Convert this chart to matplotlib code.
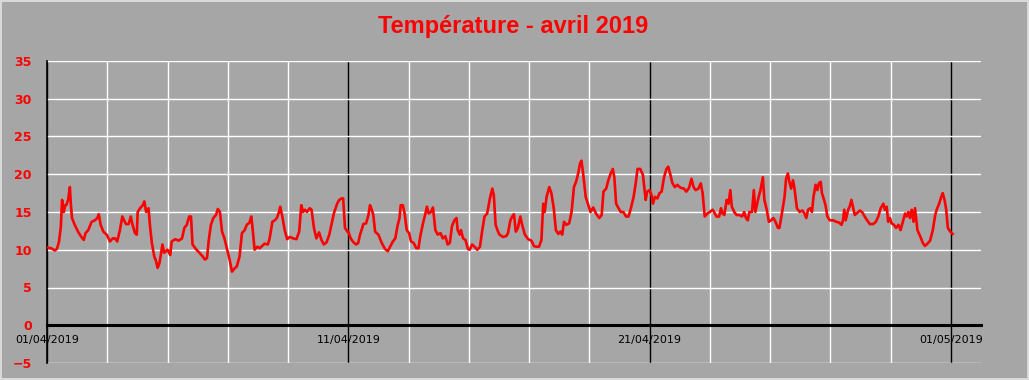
import matplotlib
matplotlib.use("Agg")
import matplotlib.pyplot as plt
from matplotlib.ticker import MultipleLocator, FixedLocator

# --- data: days elapsed since 01/04/2019 00:00, temperature (°C) ---
days = [
    0.00, 0.14, 0.26, 0.33, 0.40, 0.46, 0.50, 0.56, 0.60, 0.64, 0.70, 0.76, 0.79, 0.83, 0.92,
    1.03, 1.14, 1.22, 1.28, 1.37, 1.48, 1.59, 1.67, 1.72, 1.78, 1.87, 1.98,
    2.09, 2.18, 2.26, 2.33, 2.42, 2.50, 2.56, 2.62, 2.71, 2.78, 2.84, 2.92, 2.98,
    3.01, 3.09, 3.18, 3.23, 3.29, 3.37, 3.42, 3.48, 3.56, 3.62, 3.67, 3.73, 3.79, 3.83, 3.89, 3.94,
    4.00, 4.09, 4.14, 4.26, 4.37, 4.48, 4.56, 4.64, 4.72, 4.78, 4.83, 4.94,
    5.06, 5.17, 5.24, 5.31, 5.37, 5.44, 5.52, 5.61, 5.67, 5.74, 5.81, 5.89, 5.97,
    6.06, 6.14, 6.22, 6.30, 6.39, 6.47, 6.56, 6.63, 6.72, 6.78, 6.83, 6.89, 6.98,
    7.06, 7.14, 7.22, 7.33, 7.39, 7.48, 7.56, 7.63, 7.70, 7.74, 7.81, 7.89, 7.97,
    8.06, 8.17, 8.28, 8.37, 8.44, 8.50, 8.56, 8.63, 8.72, 8.78, 8.86, 8.94,
    9.03, 9.11, 9.19, 9.28, 9.37, 9.44, 9.52, 9.58, 9.63, 9.70, 9.78, 9.83, 9.89, 9.97,
    10.00, 10.08, 10.17, 10.26, 10.33, 10.39, 10.44, 10.50, 10.59, 10.67, 10.72, 10.78, 10.83, 10.89,
    11.00, 11.11, 11.22, 11.31, 11.39, 11.48, 11.56, 11.63, 11.70, 11.74, 11.81, 11.87, 11.94,
    12.02, 12.08, 12.17, 12.26, 12.33, 12.39, 12.48, 12.56, 12.61, 12.67, 12.74, 12.81, 12.89, 12.97,
    13.06, 13.14, 13.22, 13.30, 13.37, 13.44, 13.52, 13.59, 13.63, 13.70, 13.74, 13.81, 13.89, 13.97,
    14.03, 14.11, 14.19, 14.28, 14.37, 14.44, 14.52, 14.61, 14.70, 14.78, 14.83, 14.89, 14.97,
    15.02, 15.13, 15.24, 15.30, 15.38, 15.44, 15.50, 15.56, 15.63, 15.71, 15.77, 15.86, 15.97,
    16.08, 16.16, 16.24, 16.33, 16.41, 16.47, 16.52, 16.58, 16.67, 16.74, 16.82, 16.89, 16.97,
    17.04, 17.10, 17.16, 17.24, 17.33, 17.41, 17.49, 17.56, 17.63, 17.69, 17.74, 17.80, 17.88, 17.97,
    18.04, 18.13, 18.22, 18.33, 18.41, 18.47, 18.56, 18.63, 18.71, 18.78, 18.83, 18.89, 18.97,
    19.04, 19.13, 19.22, 19.30, 19.38, 19.47, 19.54, 19.60, 19.69, 19.78, 19.87, 19.92,
    20.00, 20.07, 20.11, 20.18, 20.26, 20.33, 20.40, 20.48, 20.56, 20.62, 20.68, 20.76, 20.84, 20.92,
    21.03, 21.14, 21.22, 21.31, 21.39, 21.46, 21.53, 21.62, 21.70, 21.76, 21.83, 21.92,
    22.00, 22.09, 22.14, 22.22, 22.31, 22.37, 22.42, 22.48, 22.56, 22.62, 22.68, 22.73, 22.81, 22.89, 22.98,
    23.07, 23.14, 23.20, 23.26, 23.31, 23.40, 23.46, 23.51, 23.57, 23.62, 23.68, 23.76, 23.81, 23.89, 23.96,
    24.03, 24.11, 24.18, 24.26, 24.31, 24.40, 24.48, 24.53, 24.59, 24.64, 24.70, 24.76, 24.81, 24.89, 24.98,
    25.07, 25.14, 25.20, 25.26, 25.33, 25.39, 25.44, 25.51, 25.57, 25.62, 25.68, 25.72, 25.79, 25.84, 25.90, 25.98,
    26.09, 26.20, 26.29, 26.37, 26.42, 26.46, 26.51, 26.59, 26.64, 26.70, 26.76, 26.81, 26.87, 26.98,
    27.07, 27.14, 27.22, 27.31, 27.42, 27.51, 27.59, 27.67, 27.76, 27.81, 27.87, 27.92, 27.98,
    28.03, 28.11, 28.18, 28.26, 28.33, 28.42, 28.48, 28.53, 28.59, 28.64, 28.70, 28.76, 28.81, 28.89, 28.98,
    29.07, 29.14, 29.22, 29.31, 29.40, 29.48, 29.53, 29.61, 29.68, 29.73, 29.79, 29.84, 29.90, 29.98, 30.06,
]
temps = [
    10.3, 10.2, 9.9, 10.1, 11.1, 13.1, 16.6, 15.0, 15.9, 15.9, 16.6, 18.3, 16.1, 14.2, 13.3,
    12.4, 11.7, 11.3, 12.2, 12.6, 13.7, 13.9, 14.2, 14.7, 13.3, 12.4, 12.0,
    11.1, 11.5, 11.5, 11.1, 12.6, 14.4, 13.9, 13.4, 13.4, 14.4, 13.3, 12.2, 12.0,
    15.0, 15.5, 15.9, 16.4, 15.0, 15.5, 13.1, 10.9, 9.1, 8.5, 7.6, 8.2, 9.6, 10.7, 9.6, 9.8,
    10.0, 9.3, 11.1, 11.4, 11.2, 11.5, 12.9, 13.3, 14.4, 14.4, 10.7, 10.1,
    9.6, 9.1, 8.7, 8.9, 11.3, 13.3, 14.2, 14.6, 15.4, 15.0, 12.4, 11.5, 10.2,
    8.7, 7.1, 7.5, 7.8, 9.1, 12.2, 12.6, 13.3, 13.6, 14.4, 12.6, 10.0, 10.4,
    10.2, 10.5, 10.8, 10.7, 11.5, 13.7, 13.9, 14.2, 15.0, 15.7, 14.4, 12.6, 11.4,
    11.7, 11.5, 11.4, 12.4, 15.9, 15.0, 15.3, 15.0, 15.5, 15.3, 12.9, 11.5,
    12.3, 11.3, 10.7, 11.0, 12.0, 13.3, 14.8, 15.5, 16.1, 16.6, 16.8, 16.8, 12.9, 12.4,
    12.4, 11.5, 11.0, 10.7, 10.9, 12.0, 12.6, 13.4, 13.5, 14.6, 15.9, 15.3, 14.6, 12.4,
    12.0, 10.9, 10.1, 9.8, 10.4, 11.1, 11.5, 13.1, 14.2, 15.9, 15.9, 14.8, 12.6,
    12.2, 11.1, 10.9, 10.2, 10.2, 11.8, 13.5, 14.8, 15.7, 14.8, 15.0, 15.6, 12.6, 12.0,
    12.2, 11.5, 11.8, 10.7, 10.9, 13.1, 13.9, 14.2, 12.6, 12.0, 12.6, 11.5, 11.3, 10.1,
    10.0, 10.7, 10.4, 10.0, 10.4, 12.4, 14.4, 14.8, 16.8, 18.1, 17.2, 13.3, 12.4,
    12.0, 11.7, 11.8, 12.2, 13.9, 14.4, 14.7, 12.4, 12.9, 14.4, 13.3, 12.0, 11.4,
    11.2, 10.5, 10.4, 10.4, 11.3, 16.1, 15.0, 17.0, 18.3, 17.5, 15.5, 12.6, 12.1,
    12.4, 12.0, 13.7, 13.3, 13.5, 15.0, 18.3, 19.0, 20.1, 21.4, 21.8, 19.9, 17.0, 15.9,
    15.0, 15.6, 14.8, 14.2, 14.6, 17.7, 18.1, 19.2, 20.1, 20.7, 19.6, 16.1, 15.5,
    15.0, 15.0, 14.4, 14.4, 15.5, 17.0, 18.8, 20.7, 20.7, 19.9, 16.6, 17.7,
    17.9, 17.2, 16.1, 17.0, 16.8, 17.5, 17.7, 19.6, 20.7, 21.0, 20.1, 18.8, 18.3, 18.6,
    18.2, 18.1, 17.7, 18.2, 19.4, 18.3, 17.9, 18.1, 18.8, 17.5, 14.4, 14.8,
    15.0, 15.3, 15.0, 14.4, 14.4, 15.5, 14.8, 14.6, 16.6, 16.1, 17.9, 15.7, 15.0, 14.6, 14.6,
    14.4, 15.0, 14.2, 13.9, 15.0, 15.0, 17.9, 15.0, 16.1, 17.0, 17.9, 19.6, 16.6, 15.3, 13.7,
    13.9, 14.2, 13.7, 12.9, 12.9, 15.0, 17.0, 19.4, 20.1, 19.0, 18.1, 19.2, 18.1, 15.5, 15.0,
    15.2, 14.8, 14.2, 15.3, 15.5, 15.0, 17.0, 18.6, 17.9, 18.8, 19.0, 17.5, 16.6, 15.9, 14.4, 13.9,
    13.9, 13.7, 13.6, 13.3, 13.9, 15.3, 13.9, 15.3, 15.7, 16.6, 15.5, 14.6, 14.8, 15.2,
    14.9, 14.4, 13.9, 13.4, 13.4, 13.7, 14.4, 15.5, 16.1, 15.3, 15.7, 13.7, 14.2,
    13.5, 13.3, 12.9, 13.3, 12.6, 13.9, 14.8, 14.4, 15.0, 14.2, 15.3, 13.7, 15.5, 12.6, 11.8,
    10.9, 10.5, 10.8, 11.2, 12.6, 14.6, 15.3, 16.1, 17.0, 17.5, 16.6, 15.5, 12.9, 12.4, 12.1,
]

xtick_pos = [0, 10, 20, 30]
xtick_labels = ["01/04/2019", "11/04/2019", "21/04/2019", "01/05/2019"]
title = "Température - avril 2019"

BG = "#a6a6a6"
W, H = 1029, 380
fig = plt.figure(figsize=(W / 100, H / 100), dpi=100, facecolor=BG)
fig.patch.set_edgecolor("#d9d9d9")
fig.patch.set_linewidth(1.5)

ax = fig.add_axes([47 / W, 1 - 363 / H, (981 - 47) / W, (363 - 61) / H])
ax.set_facecolor(BG)

ax.plot(days, temps, color="#ff0000", linewidth=1.9, zorder=3, solid_joinstyle="round")

ax.set_xlim(0, 31)
ax.set_ylim(-5, 35)

# y axis
ax.yaxis.set_major_locator(MultipleLocator(5))
ax.tick_params(axis="y", length=0, pad=11, labelcolor="#ff0000", labelsize=9)
for lab in ax.get_yticklabels():
    lab.set_fontweight("bold")

# x axis: labels at zero line
ax.xaxis.set_major_locator(FixedLocator(xtick_pos))
ax.set_xticklabels(xtick_labels)
ax.xaxis.set_minor_locator(MultipleLocator(2))
ax.tick_params(axis="x", which="both", length=0, pad=7, labelsize=8, labelcolor="black")

ax.grid(axis="y", which="major", color="white", linewidth=1.0)
ax.grid(axis="x", which="minor", color="white", linewidth=1.0)
ax.grid(axis="x", which="major", color="black", linewidth=1.0)
ax.set_axisbelow(True)

for s in ["top", "right"]:
    ax.spines[s].set_visible(False)
ax.spines["bottom"].set_position(("data", 0))
ax.spines["bottom"].set_linewidth(2.2)
ax.spines["bottom"].set_color("black")
ax.spines["left"].set_linewidth(1.2)
ax.spines["left"].set_color("black")

fig.text(513 / W, 1 - 26 / H, title, color="#ff0000", fontsize=17, fontweight="bold",
         family="Liberation Sans", ha="center", va="center")

fig.savefig("out.png", dpi=100, facecolor=BG, edgecolor=fig.patch.get_edgecolor())
